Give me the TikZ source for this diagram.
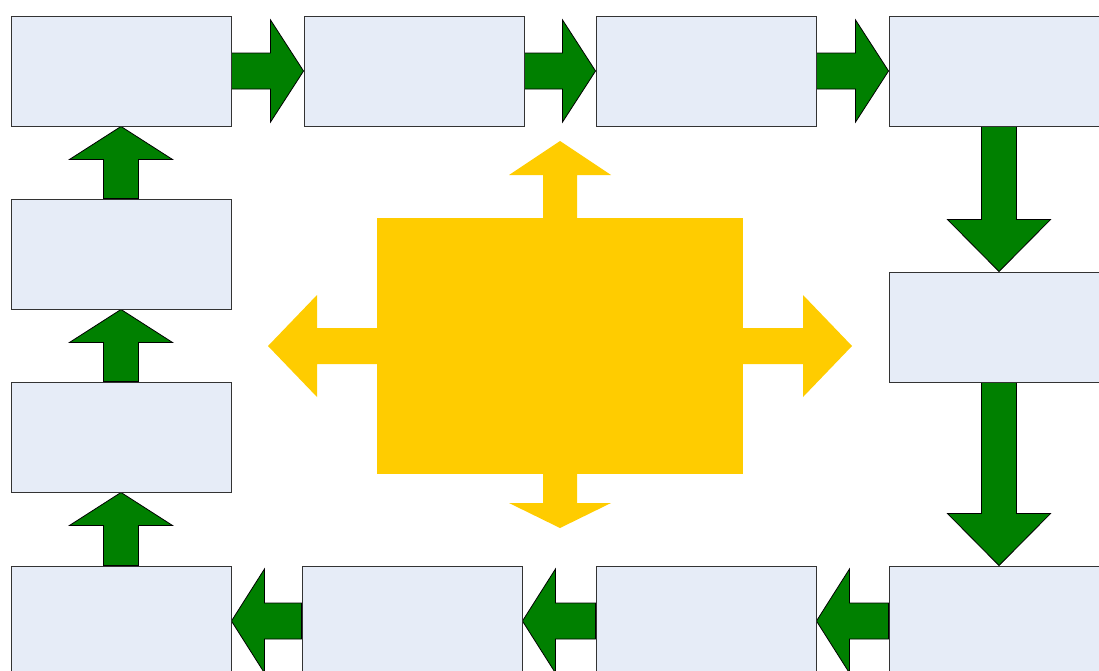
\documentclass[tikz,border=0pt]{standalone}
\usetikzlibrary{calc,backgrounds}

\definecolor{boxfill}{RGB}{230,236,247}
\definecolor{flowgreen}{RGB}{0,128,0}
\definecolor{hubyellow}{RGB}{255,204,0}

\tikzset{
  stagebox/.style={draw=black!80, line width=0.9pt, fill=boxfill,
    minimum width=220pt, minimum height=110pt, inner sep=0pt},
  hub/.style={fill=hubyellow, minimum width=366pt, minimum height=256pt, inner sep=0pt},
  % block arrow: #1 shaft half width, #2 head half width, #3 head length
  blockarrow/.style n args={3}{to path={
    ($(\tikztotarget)!#3!(\tikztostart)$) coordinate (arrbase)
    ($(\tikztostart)!#1!90:(\tikztotarget)$)
    -- ($(arrbase)!#1!90:(\tikztotarget)$)
    -- ($(arrbase)!#2!90:(\tikztotarget)$)
    -- (\tikztotarget)
    -- ($(arrbase)!#2!-90:(\tikztotarget)$)
    -- ($(arrbase)!#1!-90:(\tikztotarget)$)
    -- ($(\tikztostart)!#1!-90:(\tikztotarget)$)
    -- cycle}},
  greenarrow/.style={fill=flowgreen, draw=black, line width=0.8pt, line join=miter},
  yellowarrow/.style={fill=hubyellow},
}

\begin{document}
\begin{tikzpicture}[x=1pt,y=-1pt]
  \useasboundingbox (0,0) rectangle (1099,670);
  \clip (0,0) rectangle (1099,670);

  % stages around the loop
  \node[stagebox] (t1) at (121,71)  {};
  \node[stagebox] (t2) at (414,71)  {};
  \node[stagebox] (t3) at (706,71)  {};
  \node[stagebox] (t4) at (999,71)  {};
  \node[stagebox] (r2) at (999,327) {};
  \node[stagebox] (b4) at (999,621) {};
  \node[stagebox] (b3) at (706,621) {};
  \node[stagebox] (b2) at (412,621) {};
  \node[stagebox] (b1) at (121,621) {};
  \node[stagebox] (l3) at (121,437) {};
  \node[stagebox] (l2) at (121,254) {};

  % central hub and the tips of its arrows
  \node[hub] (core) at (560,346) {};
  \coordinate (hn) at (560,141);
  \coordinate (hs) at (560,528);
  \coordinate (hw) at (268,346);
  \coordinate (he) at (852,346);

  \begin{scope}[on background layer]
    % top row, left to right
    \draw[greenarrow, blockarrow={18pt}{51pt}{33pt}] (t1.east) to (t2.west);
    \draw[greenarrow, blockarrow={18pt}{51pt}{33pt}] (t2.east) to (t3.west);
    \draw[greenarrow, blockarrow={18pt}{51pt}{33pt}] (t3.east) to (t4.west);
    % right column, downwards
    \draw[greenarrow, blockarrow={17.5pt}{51.5pt}{52pt}] (t4.south) to (r2.north);
    \draw[greenarrow, blockarrow={17.5pt}{51.5pt}{52pt}] (r2.south) to (b4.north);
    % bottom row, right to left
    \draw[greenarrow, blockarrow={18pt}{52pt}{33pt}] (b4.west) to (b3.east);
    \draw[greenarrow, blockarrow={18pt}{52pt}{33pt}] (b3.west) to (b2.east);
    \draw[greenarrow, blockarrow={18pt}{52pt}{33pt}] (b2.west) to (b1.east);
    % left column, upwards
    \draw[greenarrow, blockarrow={17.5pt}{51.5pt}{33pt}] (b1.north) to (l3.south);
    \draw[greenarrow, blockarrow={17.5pt}{51.5pt}{33pt}] (l3.north) to (l2.south);
    \draw[greenarrow, blockarrow={17.5pt}{51.5pt}{33pt}] (l2.north) to (t1.south);

    % hub arrows
    \fill[yellowarrow, blockarrow={17pt}{51pt}{34pt}] (core.center) to (hn);
    \fill[yellowarrow, blockarrow={17pt}{51pt}{25pt}] (core.center) to (hs);
    \fill[yellowarrow, blockarrow={18pt}{51pt}{49pt}] (core.center) to (hw);
    \fill[yellowarrow, blockarrow={18pt}{51pt}{49pt}] (core.center) to (he);
  \end{scope}
\end{tikzpicture}
\end{document}
